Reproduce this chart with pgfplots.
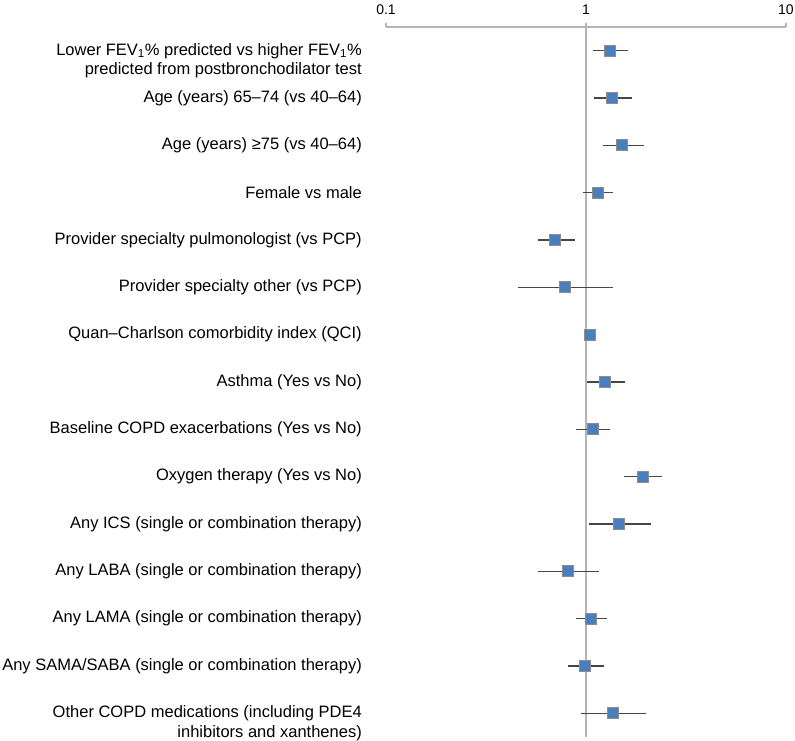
\documentclass[border=0pt]{standalone}
\usepackage{fontspec}
\setmainfont{Liberation Sans}
\usepackage{pgfplots}
\pgfplotsset{compat=1.18}
\definecolor{sqblue}{RGB}{74,126,188}
\definecolor{sqedge}{RGB}{140,140,140}
\definecolor{errcol}{RGB}{70,70,70}
\definecolor{axisgray}{RGB}{180,180,180}
\tikzset{lab/.style={anchor=east, align=right, inner sep=0pt, xshift=-24bp,
    font=\fontsize{16.5bp}{19.5bp}\selectfont}}
\begin{document}
\begin{tikzpicture}
\useasboundingbox (0,0) rectangle (795bp,741bp);
\begin{axis}[
  at={(386bp,4bp)}, anchor=south west,
  scale only axis, width=400bp, height=710bp,
  xmode=log, xmin=0.1, xmax=10, ymin=0.5, ymax=15.5, y dir=reverse,
  axis x line*=top, axis y line=none,
  xtick={0.1,1,10}, xticklabels={0.1,1,10}, xminorticks=false,
  tick align=outside, major tick length=4bp,
  axis line style={draw=axisgray, line width=1.2bp},
  tick style={draw=axisgray, line width=1.2bp},
  xticklabel style={font=\fontsize{14bp}{16bp}\selectfont, yshift=5bp},
  clip=false,
  unbounded coords=jump,
]
% reference line at 1
\addplot[draw=axisgray, line width=1.5bp, forget plot] coordinates {(1,0.5) (1,15.5)};
% confidence intervals
\addplot[draw=errcol, line width=1.5bp, forget plot] table {
x y
1.08 1
1.616 1
nan nan
1.096 2
1.705 2
nan nan
1.211 3
1.943 3
nan nan
0.97 4
1.37 4
nan nan
0.575 5
0.884 5
nan nan
0.459 6
1.37 6
nan nan
1.04 7
1.06 7
nan nan
1.01 8
1.567 8
nan nan
0.895 9
1.323 9
nan nan
1.555 10
2.408 10
nan nan
1.039 11
2.113 11
nan nan
0.573 12
1.161 12
nan nan
0.895 13
1.274 13
nan nan
0.81 14
1.226 14
nan nan
0.94 15
1.995 15
};
% point estimates
\addplot[only marks, mark=square*, mark size=5.5bp,
  mark options={fill=sqblue, draw=sqedge, line width=1bp}] table {
x y
1.318 1
1.354 2
1.519 3
1.144 4
0.703 5
0.788 6
1.051 7
1.249 8
1.080 9
1.920 10
1.468 11
0.813 12
1.059 13
0.989 14
1.360 15
};
\node[lab] at (axis cs:0.1,1.21) {Lower FEV\textsubscript{1}\% predicted vs higher FEV\textsubscript{1}\%\\predicted from postbronchodilator test};
\node[lab] at (axis cs:0.1,2) {Age (years) 65–74 (vs 40–64)};
\node[lab] at (axis cs:0.1,3) {Age (years) ≥75 (vs 40–64)};
\node[lab] at (axis cs:0.1,4) {Female vs male};
\node[lab] at (axis cs:0.1,5) {Provider specialty pulmonologist (vs PCP)};
\node[lab] at (axis cs:0.1,6) {Provider specialty other (vs PCP)};
\node[lab] at (axis cs:0.1,7) {Quan–Charlson comorbidity index (QCI)};
\node[lab] at (axis cs:0.1,8) {Asthma (Yes vs No)};
\node[lab] at (axis cs:0.1,9) {Baseline COPD exacerbations (Yes vs No)};
\node[lab] at (axis cs:0.1,10) {Oxygen therapy (Yes vs No)};
\node[lab] at (axis cs:0.1,11) {Any ICS (single or combination therapy)};
\node[lab] at (axis cs:0.1,12) {Any LABA (single or combination therapy)};
\node[lab] at (axis cs:0.1,13) {Any LAMA (single or combination therapy)};
\node[lab] at (axis cs:0.1,14) {Any SAMA/SABA (single or combination therapy)};
\node[lab] at (axis cs:0.1,15.21) {Other COPD medications (including PDE4\\inhibitors and xanthenes)};
\end{axis}
\end{tikzpicture}
\end{document}
